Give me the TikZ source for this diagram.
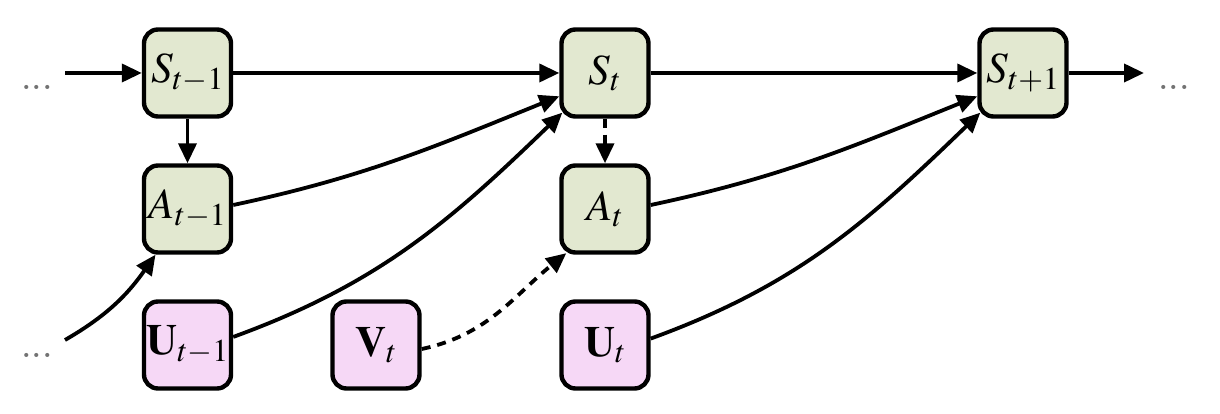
\documentclass[tikz,border=0pt]{standalone}
\usepackage{mathptmx}
\usepackage{tikz}
\usetikzlibrary{arrows.meta,calc}
\definecolor{gfill}{RGB}{226,232,208}
\definecolor{pfill}{RGB}{246,216,246}
\definecolor{dotgray}{RGB}{115,115,115}
\begin{document}
\begin{tikzpicture}[x=1pt,y=1pt,
  box/.style={draw, line width=4.4pt, rounded corners=14pt, minimum width=87pt, minimum height=87pt, inner sep=0pt, font=\fontsize{43}{50}\selectfont},
  sbox/.style={box, fill=gfill},
  ubox/.style={box, fill=pfill},
  arr/.style={line width=3.8pt, -{Triangle[length=20pt,width=18pt]}},
  dsh/.style={dash pattern=on 9pt off 7pt},
  dotsn/.style={text=dotgray, font=\fontsize{50}{56}\selectfont, inner sep=0pt, anchor=base}
]
\useasboundingbox (0,0) rectangle (1220,414);
% nodes
\node[sbox] (S1) at (187.5,341) {$S_{t-1}$};
\node[sbox] (A1) at (187.5,205) {$A_{t-1}$};
\node[ubox] (U1) at (187.5,69) {$\mathbf{U}_{t-1}$};
\node[sbox] (S2) at (605,341) {$S_{t}$};
\node[sbox] (A2) at (605,205) {$A_{t}$};
\node[ubox] (U2) at (605,69) {$\mathbf{U}_{t}$};
\node[ubox] (V2) at (376,69) {$\mathbf{V}_{t}$};
\node[sbox] (S3) at (1023,341) {$S_{t+1}$};
% dots
\node[dotsn] (dL1) at (37,324.5) {\bfseries .\kern-2pt.\kern-2pt.};
\node[dotsn] (dL2) at (37,56.5) {\bfseries .\kern-2pt.\kern-2pt.};
\node[dotsn] (dR) at (1174,324.5) {\bfseries .\kern-2pt.\kern-2pt.};
\coordinate (inL) at (65,341);
\coordinate (inL2) at (65,74);
\coordinate (outR) at (1144,341);
% connectors
\draw[arr] (inL) -- (S1);
\draw[arr] (S1) -- (S2);
\draw[arr] (S2) -- (S3);
\draw[arr] (S3) -- (outR);
\draw[arr] (S1) -- (A1);
\draw[arr,dsh] (S2) -- (A2);
\draw[arr] (inL2) to[out=30,in=235] (A1.235);
\draw[arr] (A1.5) to[out=12,in=202] (S2.207);
\draw[arr] (U1.10) to[out=20,in=224] ($(S2.south west)+(3,6)$);
\draw[arr,dsh] (V2.355) to[out=12,in=219] ($(A2.south west)+(7,1.5)$);
\draw[arr] (A2.5) to[out=12,in=202] (S3.207);
\draw[arr] (U2.8) to[out=20,in=224] ($(S3.south west)+(3,6)$);
\end{tikzpicture}
\end{document}
